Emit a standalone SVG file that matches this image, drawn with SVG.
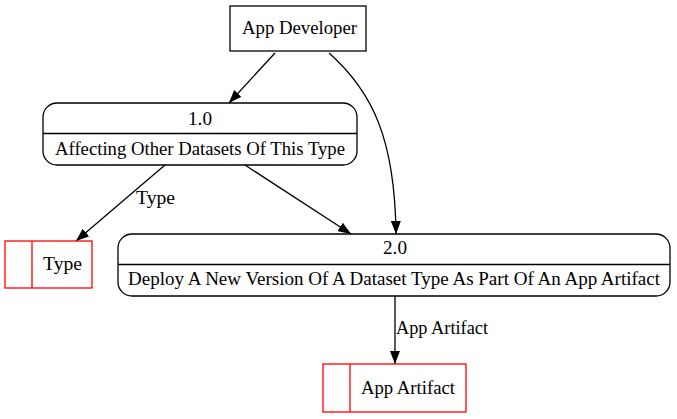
<svg xmlns="http://www.w3.org/2000/svg" width="677" height="419" viewBox="0 0 677 419">
<defs>
<style>
text{font-family:"Liberation Serif","Times New Roman",serif;font-size:18px;fill:#000}
.n{fill:none;stroke:#000;stroke-width:1.3}
.s{fill:none;stroke:#ff0000;stroke-width:1.3}
.e{fill:none;stroke:#000;stroke-width:1.3}
</style>
<marker id="ah" viewBox="0 0 13 10" refX="13" refY="5" markerWidth="13" markerHeight="10" markerUnits="userSpaceOnUse" orient="auto">
<path d="M0,0 L13,5 L0,10 Z" fill="#000"/>
</marker>
</defs>
<rect width="677" height="419" fill="#fff"/>
<g id="connectors">
<path class="e" d="M275,53 L229,103" marker-end="url(#ah)"/>
<path class="e" d="M329,53 C373,92 395,140 396,234" marker-end="url(#ah)"/>
<path class="e" d="M165,165 L76,241" marker-end="url(#ah)"/>
<text x="136" y="204" textLength="39" lengthAdjust="spacingAndGlyphs">Type</text>
<path class="e" d="M245,165 L351,234" marker-end="url(#ah)"/>
<path class="e" d="M395,296 L395,364" marker-end="url(#ah)"/>
<text x="396" y="334" textLength="92" lengthAdjust="spacingAndGlyphs">App Artifact</text>
</g>
<g id="app-developer">
<rect class="n" x="230" y="6" width="136" height="45"/>
<text x="242" y="34" textLength="115" lengthAdjust="spacingAndGlyphs">App Developer</text>
</g>
<g id="p1">
<rect class="n" x="43" y="103" width="314" height="62" rx="14" ry="14"/>
<line class="n" x1="43" y1="133.5" x2="357" y2="133.5"/>
<text x="188" y="125" textLength="24" lengthAdjust="spacingAndGlyphs">1.0</text>
<text x="55" y="155" textLength="290" lengthAdjust="spacingAndGlyphs">Affecting Other Datasets Of This Type</text>
</g>
<g id="p2">
<rect class="n" x="118" y="234" width="552" height="62" rx="14" ry="14"/>
<line class="n" x1="118" y1="264.5" x2="670" y2="264.5"/>
<text x="383" y="254" textLength="24" lengthAdjust="spacingAndGlyphs">2.0</text>
<text x="128" y="285" textLength="532" lengthAdjust="spacingAndGlyphs">Deploy A New Version Of A Dataset Type As Part Of An App Artifact</text>
</g>
<g id="type-store">
<rect class="s" x="5" y="241" width="87" height="47"/>
<line class="s" x1="32" y1="241" x2="32" y2="288"/>
<text x="43" y="270" textLength="39" lengthAdjust="spacingAndGlyphs">Type</text>
</g>
<g id="artifact-store">
<rect class="s" x="323" y="364" width="143" height="48"/>
<line class="s" x1="350" y1="364" x2="350" y2="412"/>
<text x="361" y="394" textLength="94" lengthAdjust="spacingAndGlyphs">App Artifact</text>
</g>
</svg>
